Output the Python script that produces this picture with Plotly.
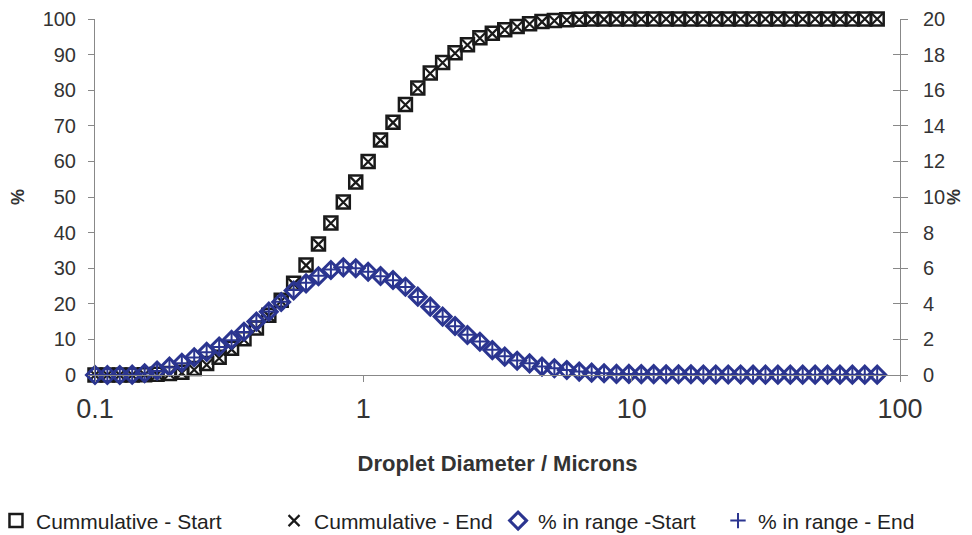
import plotly.graph_objects as go

# Bin sizes (microns)
diameter = [0.100, 0.1112, 0.1237, 0.1376, 0.1531, 0.1703, 0.1894, 0.2107, 0.2343, 0.2607,
            0.2902, 0.3228, 0.3591, 0.3995, 0.4444, 0.4943, 0.5499, 0.6117, 0.6805, 0.7570,
            0.8421, 0.9369, 1.042, 1.159, 1.290, 1.435, 1.596, 1.776, 1.975, 2.197,
            2.444, 2.719, 3.025, 3.365, 3.743, 4.164, 4.632, 5.152, 5.732, 6.376,
            7.093, 7.891, 8.778, 9.764, 10.86, 12.08, 13.44, 14.95, 16.63, 18.50,
            20.58, 22.90, 25.47, 28.34, 31.52, 35.07, 39.01, 43.39, 48.27, 53.70,
            59.74, 66.45, 73.92, 82.22]

cum_start = [0, 0, 0, 0, 0.1, 0.2, 0.4, 0.8, 1.8, 3.2,
             5.0, 7.5, 10.2, 13.2, 16.8, 21.0, 25.8, 30.9, 36.8, 42.7,
             48.6, 54.2, 60.0, 66.0, 71.0, 76.0, 80.6, 84.8, 87.8, 90.5,
             92.8, 94.7, 96.0, 97.0, 97.9, 98.7, 99.3, 99.6, 99.8, 99.9,
             100, 100, 100, 100, 100, 100, 100, 100, 100, 100,
             100, 100, 100, 100, 100, 100, 100, 100, 100, 100,
             100, 100, 100, 100]

cum_end = [0, 0, 0, 0, 0.05, 0.15, 0.3, 0.6, 1.5, 2.9,
           4.7, 7.2, 9.9, 13.0, 16.6, 20.8, 25.6, 30.8, 36.7, 42.6,
           48.5, 54.1, 59.9, 65.9, 70.9, 75.9, 80.5, 84.7, 87.7, 90.4,
           92.7, 94.6, 95.9, 96.9, 97.8, 98.6, 99.2, 99.5, 99.7, 99.8,
           99.9, 99.9, 100, 100, 100, 100, 100, 100, 100, 100,
           100, 100, 100, 100, 100, 100, 100, 100, 100, 100,
           100, 100, 100, 100]

pct_start = [0, 0, 0, 0.02, 0.1, 0.25, 0.47, 0.69, 1.0, 1.3,
             1.6, 1.97, 2.43, 3.0, 3.56, 4.1, 4.75, 5.15, 5.55, 5.9,
             6.05, 6.0, 5.8, 5.56, 5.34, 4.96, 4.4, 3.84, 3.28, 2.75,
             2.25, 1.87, 1.4, 1.03, 0.8, 0.65, 0.47, 0.38, 0.28, 0.19,
             0.13, 0.1, 0.06, 0.06, 0.05, 0.05, 0.04, 0.04, 0.04, 0.03,
             0.03, 0.03, 0.03, 0.02, 0.02, 0.02, 0.02, 0.02, 0.02, 0.02,
             0.02, 0.02, 0.02, 0.02]

pct_end = [0, 0, 0, 0.01, 0.08, 0.22, 0.44, 0.66, 0.98, 1.28,
           1.58, 1.95, 2.42, 3.0, 3.57, 4.12, 4.78, 5.18, 5.58, 5.92,
           6.06, 6.0, 5.8, 5.55, 5.32, 4.94, 4.38, 3.83, 3.27, 2.74,
           2.26, 1.88, 1.42, 1.05, 0.81, 0.66, 0.48, 0.38, 0.28, 0.19,
           0.13, 0.1, 0.06, 0.06, 0.05, 0.05, 0.04, 0.04, 0.04, 0.03,
           0.03, 0.03, 0.03, 0.02, 0.02, 0.02, 0.02, 0.02, 0.02, 0.02,
           0.02, 0.02, 0.02, 0.02]

x_ticks = [0.1, 1, 10, 100]
x_tick_text = ["0.1", "1", "10", "100"]

BLUE = "#2b3590"
DARK = "#1a1a1a"
AXC = "#888888"
TXT = "#333333"
FONT = "Liberation Sans, Arial, sans-serif"

fig = go.Figure()
fig.add_trace(go.Scatter(
    x=diameter, y=cum_start, mode="markers", name="Cummulative - Start", legend="legend",
    marker=dict(symbol="square-open", size=13, color=DARK, line=dict(width=2.5, color=DARK)),
    cliponaxis=False))
fig.add_trace(go.Scatter(
    x=diameter, y=cum_end, mode="markers", name="Cummulative - End", legend="legend2",
    marker=dict(symbol="x-thin-open", size=11, color=DARK, line=dict(width=2.2, color=DARK)),
    cliponaxis=False))
fig.add_trace(go.Scatter(
    x=diameter, y=pct_start, mode="markers", name="% in range -Start", yaxis="y2", legend="legend3",
    marker=dict(symbol="diamond-open", size=13, color=BLUE, line=dict(width=3, color=BLUE)),
    cliponaxis=False))
fig.add_trace(go.Scatter(
    x=diameter, y=pct_end, mode="markers", name="% in range - End", yaxis="y2", legend="legend4",
    marker=dict(symbol="cross-thin-open", size=11, color=BLUE, line=dict(width=2, color=BLUE)),
    cliponaxis=False))
# helper (empty) trace so the inner half of the right-hand cross ticks is drawn
fig.add_trace(go.Scatter(x=[], y=[], yaxis="y3", showlegend=False, hoverinfo="skip"))

leg_common = dict(orientation="h", y=-0.41, yanchor="middle", xanchor="left",
                  font=dict(size=21, color="#222222", family=FONT), itemwidth=30,
                  bgcolor="rgba(0,0,0,0)")

# page body has an 8px margin: figure is sized/offset so the plot lands where the reference has it
fig.update_layout(
    width=956, height=527,
    margin=dict(l=87, r=64, t=11, b=160, autoexpand=False),
    paper_bgcolor="white", plot_bgcolor="white",
    font=dict(family=FONT, color=TXT),
    showlegend=True,
    legend=dict(x=-0.123, **leg_common),
    legend2=dict(x=0.2224, **leg_common),
    legend3=dict(x=0.5007, **leg_common),
    legend4=dict(x=0.7739, **leg_common),
    xaxis=dict(type="log", range=[-1, 2], tickvals=x_ticks, ticktext=x_tick_text,
               showgrid=False, zeroline=False, showline=True, linecolor=AXC, linewidth=1,
               ticks="outside", ticklen=6, tickcolor=AXC, automargin=False,
               tickfont=dict(size=27, color=TXT), ticklabelstandoff=4,
               title=dict(text="<b>Droplet Diameter / Microns</b>", font=dict(size=22, color=TXT),
                          standoff=32)),
    yaxis=dict(range=[0, 100], dtick=10, showgrid=False, zeroline=False,
               showline=True, linecolor=AXC, linewidth=1, automargin=False,
               ticks="outside", ticklen=6, tickcolor=AXC,
               tickfont=dict(size=20, color=TXT), ticklabelstandoff=8,
               title=dict(text="<b>%</b>", font=dict(size=18, color=TXT), standoff=20)),
    yaxis2=dict(range=[0, 20], dtick=2, overlaying="y", side="right", showgrid=False,
                zeroline=False, showline=True, linecolor=AXC, linewidth=1, automargin=False,
                ticks="outside", ticklen=7, tickcolor=AXC,
                tickfont=dict(size=20, color=TXT), ticklabelstandoff=11,
                title=dict(text="<b>%</b>", font=dict(size=18, color=TXT), standoff=15)),
    yaxis3=dict(range=[0, 20], dtick=2, overlaying="y", side="right", showgrid=False,
                zeroline=False, showline=False, automargin=False,
                ticks="inside", ticklen=7, tickcolor=AXC, showticklabels=False),
)

fig.write_html("out.html")
